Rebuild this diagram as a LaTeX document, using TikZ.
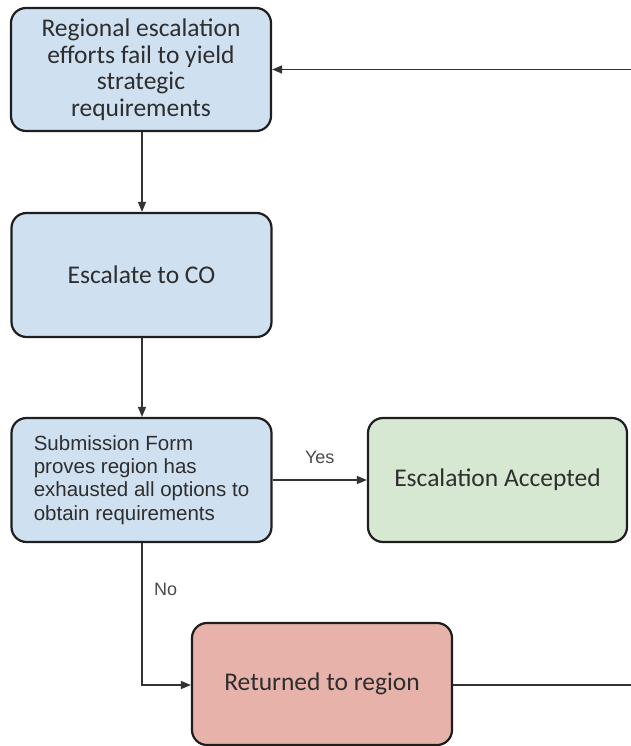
\documentclass[tikz,border=0pt]{standalone}
\usepackage{fontspec}
\setmainfont{Carlito}
\newfontfamily\arialfont{Liberation Sans}
\usetikzlibrary{arrows.meta}
\definecolor{boxblue}{HTML}{CFE0F1}
\definecolor{boxgreen}{HTML}{D6E8D2}
\definecolor{boxred}{HTML}{E6B2AA}
\definecolor{edgecol}{HTML}{1E1E1E}
\definecolor{linecol}{HTML}{333333}
\definecolor{labelcol}{HTML}{4A4A4A}
\definecolor{textcol}{HTML}{2E2E2E}
\begin{document}
\begin{tikzpicture}[x=1pt,y=-1pt,
  stepbox/.style={draw=edgecol, line width=2.2pt, rounded corners=15pt,
    minimum width=260pt, minimum height=123pt, inner sep=0pt,
    align=center, text=textcol,
    font=\fontsize{25.5}{26.5}\selectfont},
  formtext/.style={font=\arialfont\fontsize{20.5}{23.3}\selectfont, align=left},
  flow/.style={draw=linecol, line width=1.3pt,
    -{Triangle[length=10pt,width=8pt]}},
  plainline/.style={draw=linecol, line width=1.3pt},
  branch/.style={font=\arialfont\fontsize{18}{20}\selectfont, text=labelcol}]
\useasboundingbox (0,0) rectangle (631,746);

% process steps
\node[stepbox, fill=boxblue] (fail) at (141,69.5)
  {Regional escalation\\efforts fail to yield\\strategic\\requirements};
\node[stepbox, fill=boxblue, minimum height=124pt] (esc) at (141.5,275) {Escalate to CO};
\node[stepbox, fill=boxblue, minimum height=124pt, formtext] (form) at (141.5,480)
  {Submission Form\\proves region has\\exhausted all options to\\obtain requirements};
\node[stepbox, fill=boxgreen, minimum width=259pt, minimum height=124pt] (ok) at (497.5,480)
  {Escalation Accepted};
\node[stepbox, fill=boxred, minimum height=122pt] (ret) at (322,684)
  {Returned to region};

% connectors
\coordinate (loopin) at (631,69.5);
\coordinate (loopout) at (631,685);
\coordinate (bend) at (142,685);
\draw[flow] (fail.south -| 142,0) -- (esc.north -| 142,0);
\draw[flow] (esc.south -| 142,0) -- (form.north -| 142,0);
\draw[flow] (form.east) -- node[branch, yshift=23pt] (yes) {Yes} (ok.west);
\draw[flow] (form.south -| bend) -- (bend) -- (ret.west |- bend);
\node[branch, anchor=west, inner sep=0pt] (no) at (154,589) {No};
\draw[plainline] (ret.east |- loopout) -- (loopout);
\draw[flow] (loopin) -- (fail.east);
\end{tikzpicture}
\end{document}
